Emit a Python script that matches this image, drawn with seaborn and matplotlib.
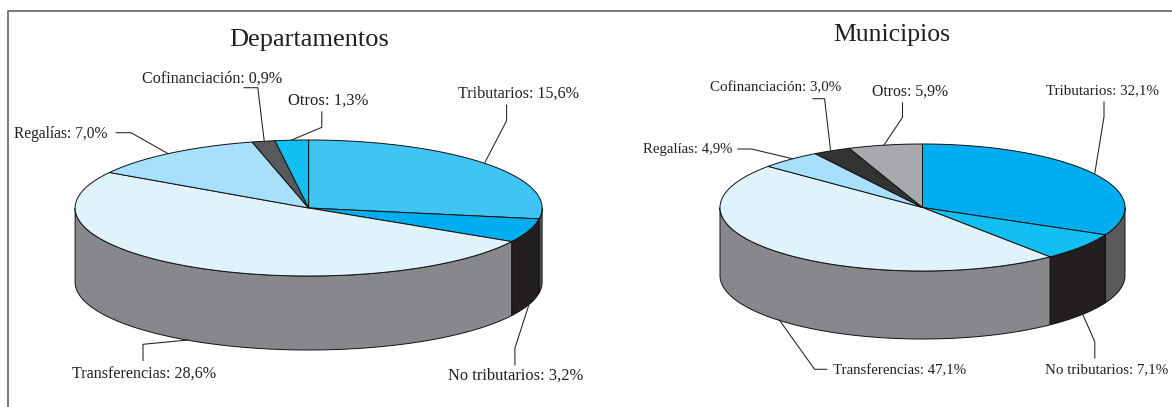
import numpy as np
import seaborn as sns
import matplotlib.pyplot as plt

# Shares of income by source
sources = ['Tributarios', 'No tributarios', 'Transferencias', 'Regalías', 'Cofinanciación', 'Otros']
dept_values = [15.6, 3.2, 28.6, 7.0, 0.9, 1.3]
muni_values = [32.1, 7.1, 47.1, 4.9, 3.0, 5.9]

dept_top = ['#3FC4F4', '#00AEEF', '#E0F3FB', '#A8E0FB', '#58595B', '#12BEF2']
dept_side = ['#58595B', '#231F20', '#87888C', '#87888C', '#58595B', '#58595B']
muni_top = ['#00AEEF', '#12BEF2', '#E0F3FB', '#A8E0FB', '#333334', '#A7A9AC']
muni_side = ['#58595B', '#231F20', '#87888C', '#87888C', '#58595B', '#58595B']

sns.set_theme(style="white")
plt.rcParams['font.family'] = ['Liberation Serif', 'DejaVu Serif']

TEXT = '#231F20'


def arc(theta, cx, cy, a, b):
    return cx + a * np.sin(theta), cy - b * np.cos(theta)


def draw_pie(ax, values, top, side, cx, cy, a, b, depth):
    shares = np.array(values) / sum(values)
    edges = np.concatenate([[0], np.cumsum(shares)]) * 2 * np.pi
    # wall first, only the half that faces the viewer
    for i in range(len(values)):
        start = max(edges[i], np.pi / 2)
        end = min(edges[i + 1], 3 * np.pi / 2)
        if end > start:
            t = np.linspace(start, end, 120)
            x, y = arc(t, cx, cy, a, b)
            ax.fill(np.r_[x, x[::-1]], np.r_[y, y[::-1] + depth],
                    facecolor=side[i], edgecolor='#111111', linewidth=0.7, zorder=2)
    for i in range(len(values)):
        t = np.linspace(edges[i], edges[i + 1], 160)
        x, y = arc(t, cx, cy, a, b)
        ax.fill(np.r_[cx, x], np.r_[cy, y], facecolor=top[i],
                edgecolor='#111111', linewidth=0.7, zorder=3)


def leader(ax, pts):
    xs, ys = zip(*pts)
    ax.plot(xs, ys, color='#231F20', linewidth=0.75, zorder=4)


def draw_labels(ax, values, positions, sizes):
    for name, val, (x, y), size in zip(sources, values, positions, sizes):
        txt = f"{name}: {val:.1f}%".replace('.', ',')
        ax.text(x, y + 1.5, txt, ha='left', va='center', fontsize=size, color=TEXT)


fig, ax = plt.subplots(figsize=(11.72, 4.07), dpi=100)
ax.set_position([0, 0, 1, 1])
ax.set_xlim(0, 1172)
ax.set_ylim(407, 0)
ax.axis('off')

# outer frame, cut by the page on the right and at the bottom
ax.plot([8, 8, 1172], [407, 11, 11], color='#6D6E70', linewidth=1.3)

draw_pie(ax, dept_values, dept_top, dept_side, 308.6, 208, 233.5, 68, 74)
draw_pie(ax, muni_values, muni_top, muni_side, 922.5, 207.5, 202.5, 63.5, 68)

ax.text(309.5, 40, 'Departamentos', ha='center', va='center', fontsize=19, color=TEXT)
ax.text(891.5, 35, 'Municipios', ha='center', va='center', fontsize=18.5, color=TEXT)

draw_labels(ax, dept_values,
            [(458.4, 92), (448, 374), (72, 372.7), (14.3, 132), (142, 76.7), (288, 98.7)],
            [11.6, 11.9, 11.6, 11.2, 11.6, 12])
draw_labels(ax, muni_values,
            [(1045.8, 89.3), (1045, 367.7), (833, 369), (643, 148.3), (709.5, 85.7), (872, 90)],
            [10.8, 10.8, 10.7, 10.6, 10.8, 11.3])

dept_leaders = [
    [(506.6, 105), (506.6, 120.7), (484.8, 162.7)],
    [(514.9, 365), (514.9, 348.3), (528.8, 305)],
    [(143, 360.7), (143, 344.3), (188, 340)],
    [(116, 132.7), (131, 132.7), (167.5, 153.3)],
    [(243.9, 87.7), (257.8, 87.7), (264.2, 140.7)],
    [(321.8, 111.7), (321.8, 127.3), (291.7, 140)],
]
muni_leaders = [
    [(1104, 101.7), (1104, 116.7), (1094.8, 173.3)],
    [(1094.8, 358.3), (1094.8, 341.7), (1083, 315)],
    [(826.8, 369.3), (814.6, 369.3), (779.3, 320)],
    [(737.7, 149), (751.5, 149), (792.3, 158.7)],
    [(812.7, 98.7), (824.6, 98.7), (830.5, 150)],
    [(902.5, 102.7), (902.5, 117.3), (884, 145)],
]
for pts in dept_leaders + muni_leaders:
    leader(ax, pts)

fig.savefig('out.png', dpi=100)
